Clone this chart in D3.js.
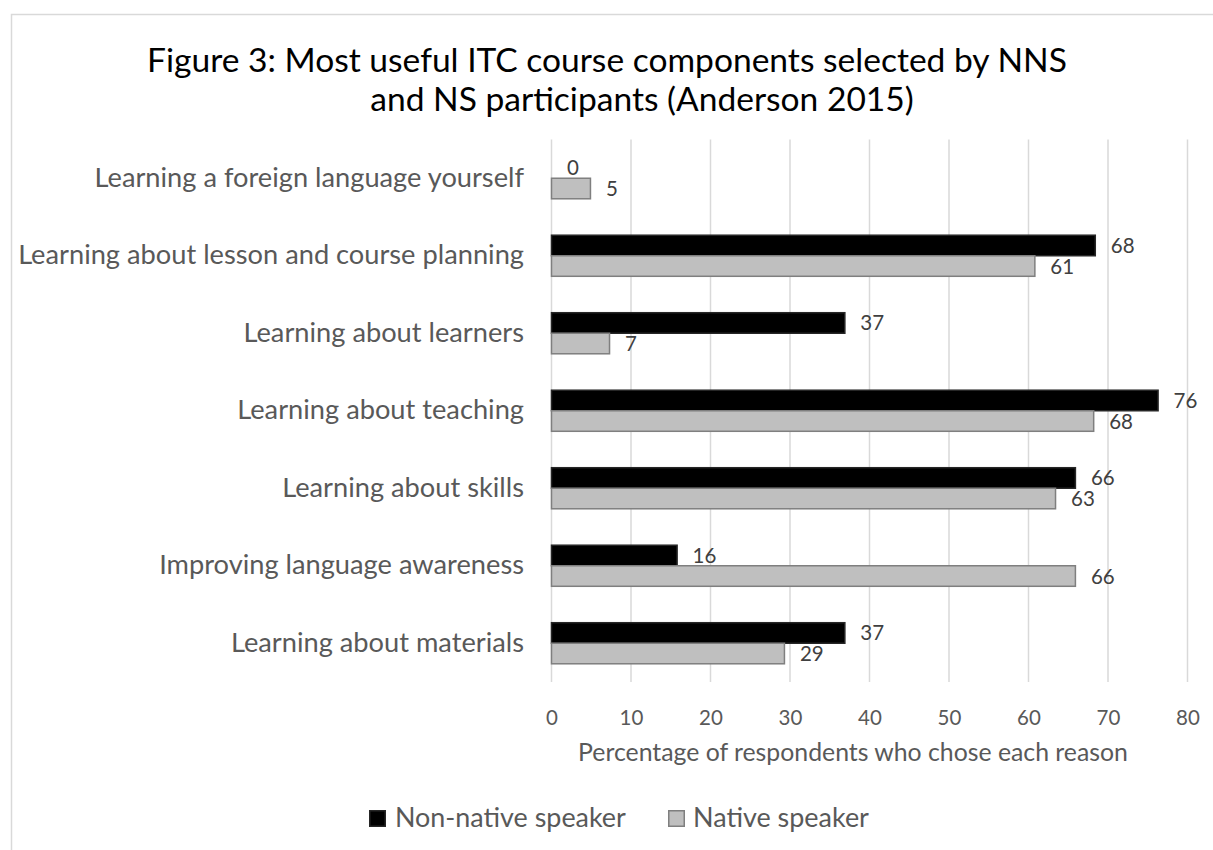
<!DOCTYPE html>
<html><head><meta charset="utf-8">
<script src="https://cdn.jsdelivr.net/npm/d3@7"></script>
<style>body{margin:0;background:#fff}svg{display:block}</style>
</head><body>
<svg id="c" width="1213" height="850"></svg>
<script>
const titleLines = ["Figure 3: Most useful ITC course components selected by NNS", "and NS participants (Anderson 2015)"];
const categories = [
  "Learning a foreign language yourself",
  "Learning about lesson and course planning",
  "Learning about learners",
  "Learning about teaching",
  "Learning about skills",
  "Improving language awareness",
  "Learning about materials"
];
const seriesNames = ["Non-native speaker", "Native speaker"];
const nonNative = [0, 68.4, 36.9, 76.3, 65.9, 15.8, 36.9];
const native = [4.9, 60.8, 7.3, 68.2, 63.4, 65.9, 29.3];
const xTicks = [0, 10, 20, 30, 40, 50, 60, 70, 80];
const xTitle = "Percentage of respondents who chose each reason";

const FONT = "Lato, 'Open Sans', sans-serif";
const svg = d3.select("#c");

function fit(sel, target, base) {
  sel.style("font-size", base + "px");
  const len = sel.node().getComputedTextLength();
  const fs = base * target / len;
  sel.style("font-size", fs + "px");
  return fs;
}

// outer chart border
svg.append("rect").attr("x", 11.5).attr("y", 14.5).attr("width", 1300).attr("height", 900)
  .attr("fill", "#fff").attr("stroke", "#d9d9d9").attr("stroke-width", 1.5);

// title
const t1 = svg.append("text").text(titleLines[0]).attr("x", 607).attr("y", 72)
  .attr("text-anchor", "middle").attr("font-family", FONT).attr("fill", "#000");
fit(t1, 920, 30);
const t2 = svg.append("text").text(titleLines[1]).attr("x", 642).attr("y", 111)
  .attr("text-anchor", "middle").attr("font-family", FONT).attr("fill", "#000");
t2.style("font-size", t1.style("font-size"));

// scales
const x = d3.scaleLinear().domain([0, 80]).range([551.5, 1187.5]);
const y = d3.scaleBand().domain(categories).range([139.5, 682]).paddingInner(0.47).paddingOuter(0.235);
const bw = y.bandwidth() / 2;

// gridlines
svg.append("g").selectAll("line").data(xTicks).join("line")
  .attr("x1", d => x(d)).attr("x2", d => x(d)).attr("y1", 139.5).attr("y2", 682)
  .attr("stroke", "#d9d9d9").attr("stroke-width", 1.5);

// x axis labels
const xAxis = svg.append("g").attr("transform", "translate(0,725)")
  .call(d3.axisBottom(x).tickValues(xTicks).tickSize(0).tickPadding(0));
xAxis.select(".domain").remove();
xAxis.selectAll("text").attr("y", 0).attr("dy", 0).attr("fill", "#595959")
  .attr("font-family", FONT).style("font-size", "20.5px");

// axis title
svg.append("text").text(xTitle).attr("x", 853).attr("y", 761).attr("text-anchor", "middle")
  .attr("font-family", FONT).attr("fill", "#595959").call(s => fit(s, 550, 20));

// category labels
const yAxis = svg.append("g").attr("transform", "translate(524,0)")
  .call(d3.axisLeft(y).tickSize(0).tickPadding(0));
yAxis.select(".domain").remove();
yAxis.selectAll("text").attr("dy", 0).attr("y", 8.5).attr("fill", "#595959").attr("font-family", FONT);
const longest = yAxis.selectAll("text").filter(d => d === categories[1]);
const cfs = fit(longest, 506, 23);
yAxis.selectAll("text").style("font-size", cfs + "px");

// bars
const series = [
  {name: seriesNames[0], values: nonNative, fill: "#000000", stroke: "#262626", off: 0},
  {name: seriesNames[1], values: native, fill: "#bfbfbf", stroke: "#7f7f7f", off: 1}
];
series.forEach(s => {
  const g = svg.append("g");
  g.selectAll("rect").data(s.values).join("rect")
    .attr("x", x(0)).attr("y", (d, i) => y(categories[i]) + s.off * bw)
    .attr("width", d => x(d) - x(0)).attr("height", bw)
    .attr("fill", s.fill).attr("stroke", s.stroke).attr("stroke-width", 1.5);
  g.selectAll("text").data(s.values).join("text")
    .text(d => Math.round(d))
    .attr("x", d => x(d) + 15.5).attr("y", (d, i) => y(categories[i]) + s.off * bw + bw / 2 + 7.5)
    .attr("font-family", FONT).attr("fill", "#404040").style("font-size", "20.5px");
});

// legend
const leg = [
  {name: seriesNames[0], fill: "#000", stroke: "#262626", sx: 369, tx: 395, tw: 231},
  {name: seriesNames[1], fill: "#bfbfbf", stroke: "#7f7f7f", sx: 668, tx: 693, tw: 176}
];
leg.forEach(l => {
  svg.append("rect").attr("x", l.sx + 0.75).attr("y", 810.75).attr("width", 15.5).attr("height", 15.5)
    .attr("fill", l.fill).attr("stroke", l.stroke).attr("stroke-width", 1.5);
  svg.append("text").text(l.name).attr("x", l.tx).attr("y", 827)
    .attr("font-family", FONT).attr("fill", "#595959").call(s => fit(s, l.tw, 22));
});
</script>
</body></html>
